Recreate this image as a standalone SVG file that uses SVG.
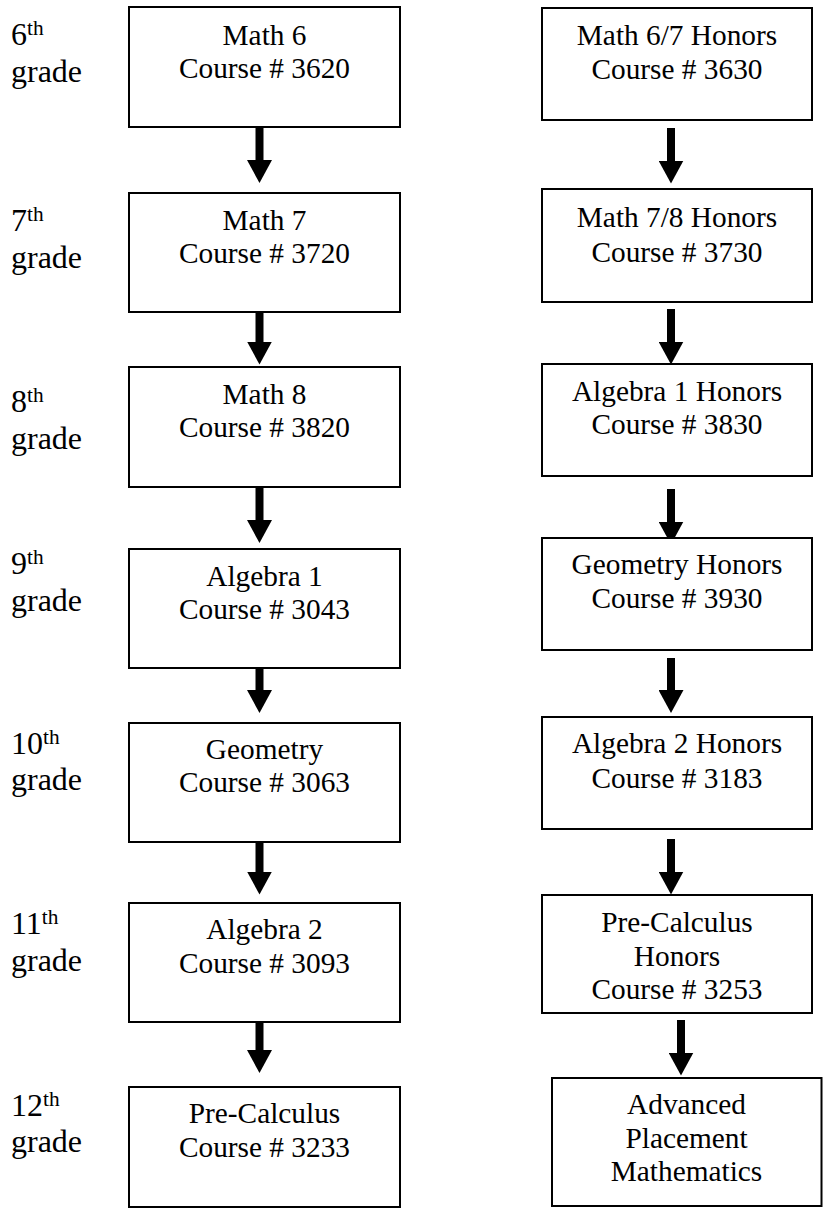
<svg xmlns="http://www.w3.org/2000/svg" width="823" height="1210" viewBox="0 0 823 1210">
<style>
.box{fill:#fff;stroke:#000;stroke-width:2}
.t{font-family:"Liberation Serif","Times New Roman",serif;font-size:29.33px;fill:#000;text-anchor:middle}
.g{font-family:"Liberation Serif","Times New Roman",serif;font-size:32px;fill:#000}
.sup{font-size:21.33px}
.arr{stroke:#000;stroke-width:8;fill:none;marker-end:url(#ah)}
</style>
<defs>
<marker id="ah" markerUnits="userSpaceOnUse" markerWidth="23" markerHeight="25" refX="0.5" refY="12.5" orient="auto" viewBox="0 0 23 25">
<path d="M0,0 L23,12.5 L0,25 Z" fill="#000"/>
</marker>
</defs>
<rect width="823" height="1210" fill="#fff"/>

<g id="grades">
<text class="g" x="11" y="45">6<tspan class="sup" dy="-10.5">th</tspan></text>
<text class="g" x="11" y="82">grade</text>
<text class="g" x="11" y="231">7<tspan class="sup" dy="-10.5">th</tspan></text>
<text class="g" x="11" y="268">grade</text>
<text class="g" x="11" y="412">8<tspan class="sup" dy="-10.5">th</tspan></text>
<text class="g" x="11" y="449">grade</text>
<text class="g" x="11" y="574">9<tspan class="sup" dy="-10.5">th</tspan></text>
<text class="g" x="11" y="611">grade</text>
<text class="g" x="11" y="754">10<tspan class="sup" dy="-10.5">th</tspan></text>
<text class="g" x="11" y="790">grade</text>
<text class="g" x="11" y="934">11<tspan class="sup" dy="-10.5">th</tspan></text>
<text class="g" x="11" y="971">grade</text>
<text class="g" x="11" y="1116">12<tspan class="sup" dy="-10.5">th</tspan></text>
<text class="g" x="11" y="1152">grade</text>
</g>

<g id="connectors">
<line class="arr" x1="259.5" y1="128" x2="259.5" y2="160.5"/>
<line class="arr" x1="259.5" y1="309" x2="259.5" y2="342"/>
<line class="arr" x1="259.5" y1="488" x2="259.5" y2="520.5"/>
<line class="arr" x1="259.5" y1="669" x2="259.5" y2="690.5"/>
<line class="arr" x1="259.5" y1="843" x2="259.5" y2="872"/>
<line class="arr" x1="259.5" y1="1023" x2="259.5" y2="1050.5"/>
<line class="arr" x1="671" y1="128" x2="671" y2="161"/>
<line class="arr" x1="671" y1="309" x2="671" y2="342"/>
<line class="arr" x1="671" y1="489" x2="671" y2="522"/>
<line class="arr" x1="671" y1="658" x2="671" y2="690.5"/>
<line class="arr" x1="671" y1="839" x2="671" y2="872"/>
<line class="arr" x1="681" y1="1020" x2="681" y2="1053"/>
</g>

<g id="math6"><rect class="box" x="129" y="7" width="271" height="120"/>
<text class="t" x="264.5" y="45">Math 6</text><text class="t" x="264.5" y="78">Course # 3620</text></g>
<g id="math7"><rect class="box" x="129" y="193" width="271" height="119"/>
<text class="t" x="264.5" y="230">Math 7</text><text class="t" x="264.5" y="263">Course # 3720</text></g>
<g id="math8"><rect class="box" x="129" y="367" width="271" height="120"/>
<text class="t" x="264.5" y="404">Math 8</text><text class="t" x="264.5" y="437">Course # 3820</text></g>
<g id="algebra1"><rect class="box" x="129" y="549" width="271" height="119"/>
<text class="t" x="264.5" y="586">Algebra 1</text><text class="t" x="264.5" y="619">Course # 3043</text></g>
<g id="geometry"><rect class="box" x="129" y="723" width="271" height="119"/>
<text class="t" x="264.5" y="759">Geometry</text><text class="t" x="264.5" y="792">Course # 3063</text></g>
<g id="algebra2"><rect class="box" x="129" y="903" width="271" height="119"/>
<text class="t" x="264.5" y="939">Algebra 2</text><text class="t" x="264.5" y="973">Course # 3093</text></g>
<g id="precalc"><rect class="box" x="129" y="1087" width="271" height="120"/>
<text class="t" x="264.5" y="1123">Pre-Calculus</text><text class="t" x="264.5" y="1157">Course # 3233</text></g>

<g id="math67h"><rect class="box" x="542" y="8" width="270" height="112"/>
<text class="t" x="677" y="45">Math 6/7 Honors</text><text class="t" x="677" y="79">Course # 3630</text></g>
<g id="math78h"><rect class="box" x="542" y="189" width="270" height="113"/>
<text class="t" x="677" y="227">Math 7/8 Honors</text><text class="t" x="677" y="262">Course # 3730</text></g>
<g id="alg1h"><rect class="box" x="542" y="364" width="270" height="112"/>
<text class="t" x="677" y="401">Algebra 1 Honors</text><text class="t" x="677" y="434">Course # 3830</text></g>
<g id="geomh"><rect class="box" x="542" y="538" width="270" height="112"/>
<text class="t" x="677" y="574">Geometry Honors</text><text class="t" x="677" y="608">Course # 3930</text></g>
<g id="alg2h"><rect class="box" x="542" y="717" width="270" height="112"/>
<text class="t" x="677" y="753">Algebra 2 Honors</text><text class="t" x="677" y="788">Course # 3183</text></g>
<g id="precalch"><rect class="box" x="542" y="895" width="270" height="118"/>
<text class="t" x="677" y="932">Pre-Calculus</text><text class="t" x="677" y="966">Honors</text><text class="t" x="677" y="999">Course # 3253</text></g>
<g id="apmath"><rect class="box" x="552" y="1078" width="269.5" height="128"/>
<text class="t" x="686.5" y="1114">Advanced</text><text class="t" x="686.5" y="1148">Placement</text><text class="t" x="686.5" y="1181">Mathematics</text></g>
</svg>
